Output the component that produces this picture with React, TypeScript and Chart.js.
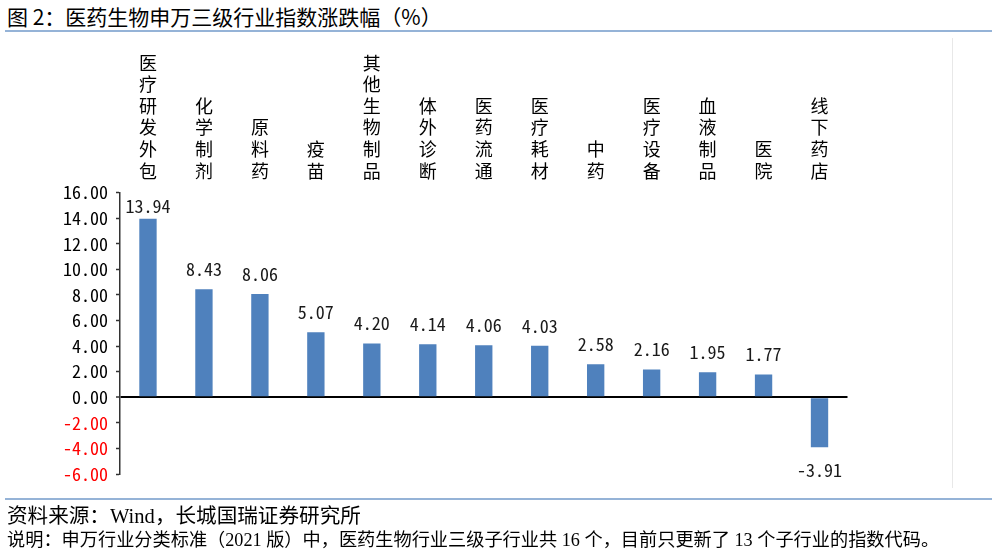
import React, { useEffect, useRef } from 'react';
import { Chart, registerables } from 'chart.js';

Chart.register(...registerables);

const categories = ['医疗研发外包', '化学制剂', '原料药', '疫苗', '其他生物制品', '体外诊断', '医药流通', '医疗耗材', '中药', '医疗设备', '血液制品', '医院', '线下药店'];
const values = [13.94, 8.43, 8.06, 5.07, 4.2, 4.14, 4.06, 4.03, 2.58, 2.16, 1.95, 1.77, -3.91];
const yMin = -6;
const yMax = 16;
const yStep = 2;

const titleText = '图 2：医药生物申万三级行业指数涨跌幅（%）';
const sourceText = '资料来源：Wind，长城国瑞证券研究所';
const noteText = '说明：申万行业分类标准（2021 版）中，医药生物行业三级子行业共 16 个，目前只更新了 13 个子行业的指数代码。';

const CJK = "'Noto Sans CJK SC', 'Noto Sans', sans-serif";
const MONO = "'Noto Sans Mono CJK SC', 'DejaVu Sans Mono', monospace";
const SERIF = "'Liberation Serif', 'Noto Sans CJK SC', serif";

const valueLabelPlugin = {
  id: 'valueLabels',
  afterDatasetsDraw(chart: any) {
    const { ctx, chartArea } = chart;
    const meta = chart.getDatasetMeta(0);
    const data = chart.data.datasets[0].data as number[];
    ctx.save();
    ctx.font = `18px ${MONO}`;
    ctx.fillStyle = '#1a1a1a';
    ctx.textAlign = 'center';
    ctx.textBaseline = 'middle';
    meta.data.forEach((el: any, i: number) => {
      const v = data[i];
      let y = v >= 0 ? el.y - 20 : el.y + 23;
      if (v >= 0) y = Math.max(y, chartArea.top + 14);
      ctx.fillText(v.toFixed(2), el.x, y);
    });
    ctx.restore();
  },
};

export default function App() {
  const canvasRef = useRef<HTMLCanvasElement>(null);

  useEffect(() => {
    if (!canvasRef.current) return;
    const chart = new Chart(canvasRef.current, {
      type: 'bar',
      data: {
        labels: categories.map((c) => Array.from(c)),
        datasets: [
          {
            data: values,
            backgroundColor: '#4f81bd',
            barPercentage: 0.31,
            categoryPercentage: 1,
          },
        ],
      },
      options: {
        responsive: false,
        animation: false,
        devicePixelRatio: 1,
        layout: { padding: { left: 0, top: 0, right: 149.5, bottom: 80 } },
        plugins: {
          legend: { display: false },
          tooltip: { enabled: false },
        },
        scales: {
          x: {
            position: 'top',
            offset: true,
            grid: { display: false, drawTicks: false },
            border: { display: false },
            ticks: {
              color: '#000',
              font: { family: CJK, size: 18, lineHeight: 1.2 },
              padding: 11,
              maxRotation: 0,
              minRotation: 0,
              autoSkip: false,
            },
            afterFit: (s: any) => {
              s.height = 192.5;
            },
          },
          y: {
            min: yMin,
            max: yMax,
            ticks: {
              stepSize: yStep,
              callback: (v: any) => Number(v).toFixed(2),
              color: (c: any) => (c.tick && c.tick.value < 0 ? '#ff0000' : '#000'),
              font: { family: MONO, size: 18 },
              padding: 8,
            },
            grid: {
              color: (c: any) => (c.tick && c.tick.value === 0 ? '#000' : 'rgba(0,0,0,0)'),
              lineWidth: (c: any) => (c.tick && c.tick.value === 0 ? 2 : 1),
              tickColor: '#333',
              tickLength: 4,
              tickWidth: 1.5,
            },
            border: { color: '#333', width: 1.5 },
            afterFit: (s: any) => {
              s.width = 120;
            },
          },
        },
      } as any,
      plugins: [valueLabelPlugin],
    });
    return () => chart.destroy();
  }, []);

  return (
    <div style={{ position: 'fixed', left: 0, top: 0, width: 997, height: 554, background: '#fff', overflow: 'hidden' }}>
      <div style={{ position: 'absolute', left: 7, top: 5.5, fontFamily: CJK, fontSize: 21, lineHeight: '21px', color: '#000', whiteSpace: 'nowrap' }}>
        {titleText}
      </div>
      <div style={{ position: 'absolute', left: 5, top: 30, width: 987, height: 2, background: '#95b3d7' }} />
      <div style={{ position: 'absolute', left: 952, top: 38, width: 1, height: 450, background: '#e8e8e8' }} />
      <canvas ref={canvasRef} width={997} height={554} style={{ position: 'absolute', left: 0, top: 0, width: 997, height: 554 }} />
      <div style={{ position: 'absolute', left: 5, top: 498, width: 987, height: 2, background: '#95b3d7' }} />
      <div style={{ position: 'absolute', left: 7, top: 505.5, fontFamily: SERIF, fontSize: 20.6, lineHeight: '21px', color: '#000', whiteSpace: 'nowrap' }}>
        {sourceText}
      </div>
      <div style={{ position: 'absolute', left: 7, top: 531, fontFamily: SERIF, fontSize: 18.2, lineHeight: '18px', color: '#000', whiteSpace: 'nowrap' }}>
        {noteText}
      </div>
    </div>
  );
}
